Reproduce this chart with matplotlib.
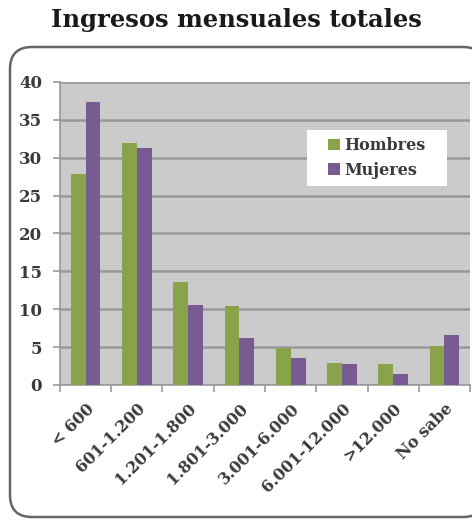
import numpy as np
import matplotlib.pyplot as plt
from matplotlib.patches import FancyBboxPatch, Rectangle
from matplotlib.transforms import IdentityTransform

categorias = ["< 600", "601-1.200", "1.201-1.800", "1.801-3.000",
              "3.001-6.000", "6.001-12.000", ">12.000", "No sabe"]
hombres = [27.8, 32.0, 13.6, 10.4, 4.9, 2.9, 2.8, 5.1]
mujeres = [37.3, 31.3, 10.6, 6.2, 3.5, 2.8, 1.5, 6.6]

verde = "#88a34a"
morado = "#785b93"
serif = ["DejaVu Serif"]
texto = "#3a3a3a"

fig = plt.figure(figsize=(4.72, 5.22), dpi=100)

# rounded frame around the chart (pixel units)
marco = FancyBboxPatch((10, 5), 475, 470,
                       boxstyle="round,pad=0,rounding_size=22",
                       transform=IdentityTransform(), facecolor="white",
                       edgecolor="#666666", linewidth=1.8, zorder=-5)
fig.patches.append(marco)

fig.text(0.5, 0.962, "Ingresos mensuales totales", ha="center", va="center",
         fontsize=17.5, fontweight="bold", family=serif, color="#1a1a1a")

ax = fig.add_axes([0.127, 0.2625, 0.869, 0.5805])
ax.set_facecolor("#cbcbcb")

x = np.arange(len(categorias))
w = 0.29
ax.bar(x - w / 2, hombres, w, color=verde, label="Hombres", zorder=3)
ax.bar(x + w / 2, mujeres, w, color=morado, label="Mujeres", zorder=3)

ax.set_ylim(0, 40)
ax.set_xlim(-0.5, len(categorias) - 0.5)
ax.set_yticks(range(0, 41, 5))
ax.yaxis.grid(True, color="#999999", linewidth=1.8, zorder=1)

ax.set_xticks(np.arange(len(categorias) + 1) - 0.5, minor=False)
ax.set_xticklabels([])
ax.set_xticks(x, minor=True)
ax.set_xticklabels(categorias, minor=True, rotation=45, ha="right",
                   rotation_mode="anchor", fontsize=11.5, family=serif,
                   fontweight="bold", color=texto)
ax.tick_params(axis="x", which="minor", length=0, pad=11)
ax.tick_params(axis="x", which="major", length=5, color="#999999", width=1.2)
ax.tick_params(axis="y", length=5, color="#999999", width=1.2, pad=8,
               labelsize=12, labelcolor=texto)
for lab in ax.get_yticklabels():
    lab.set_family(serif)
    lab.set_fontweight("bold")

for lado in ["top", "right"]:
    ax.spines[lado].set_visible(False)
ax.spines["left"].set_color("#999999")
ax.spines["bottom"].set_color("#999999")
ax.spines["left"].set_linewidth(1.2)
ax.spines["bottom"].set_linewidth(1.2)

# white panel behind the legend
ax.add_patch(Rectangle((0.602, 0.657), 0.342, 0.185, transform=ax.transAxes,
                       facecolor="white", edgecolor="none", zorder=4))
leg = ax.legend(loc="center", bbox_to_anchor=(0.773, 0.749),
                frameon=False, handlelength=0.7, handleheight=0.7,
                handletextpad=0.3, labelspacing=0.45,
                prop={"family": serif, "weight": "bold", "size": 11.5})
leg.set_zorder(5)
for t in leg.get_texts():
    t.set_color(texto)

fig.savefig("out.png", dpi=100)
